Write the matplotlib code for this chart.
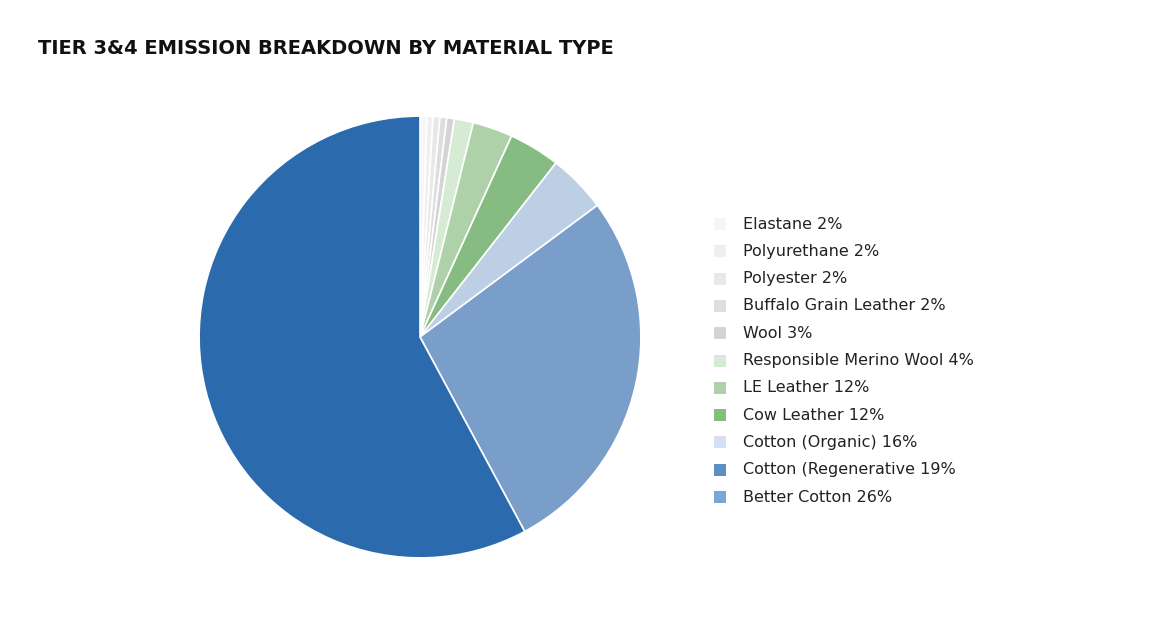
import matplotlib
matplotlib.use("Agg")
import matplotlib.pyplot as plt
import matplotlib.patches as patches

# slice sizes (degrees), clockwise from 12 o'clock
slice_names = ["Elastane", "Polyurethane", "Polyester", "Buffalo Grain Leather", "Wool",
               "Responsible Merino Wool", "LE Leather", "Cow Leather", "Cotton (Organic)",
               "Better Cotton", "Cotton (Regenerative"]
slice_deg = [1.8, 1.6, 1.8, 1.8, 2.0, 5.0, 10.5, 13.5, 15.4, 98.3, 208.3]
slice_colors = ["#f6f6f6", "#efefef", "#e8e8e8", "#dedede", "#d4d4d4", "#d5ebd3",
                "#afd1aa", "#86bb82", "#bccfe4", "#789ec9", "#2a6aad"]

legend_labels = ["Elastane 2%", "Polyurethane 2%", "Polyester 2%", "Buffalo Grain Leather 2%",
                 "Wool 3%", "Responsible Merino Wool 4%", "LE Leather 12%", "Cow Leather 12%",
                 "Cotton (Organic) 16%", "Cotton (Regenerative 19%", "Better Cotton 26%"]
legend_colors = ["#f6f6f6", "#efefef", "#e8e8e8", "#dedede", "#d4d4d4", "#d5ebd3",
                 "#afd1aa", "#86bb82", "#d3e1f0", "#5d8fc4", "#7aa8d4"]

W, H = 1175, 621
fig = plt.figure(figsize=(W / 100, H / 100), dpi=100)

cx, cy, r = 420, 337, 222
ax = fig.add_axes([(cx - r) / W, (H - cy - r) / H, 2 * r / W, 2 * r / H])
ax.pie(slice_deg, colors=slice_colors, startangle=90, counterclock=False,
       wedgeprops=dict(edgecolor="white", linewidth=1.2))
ax.set_xlim(-1.005, 1.005)
ax.set_ylim(-1.005, 1.005)
ax.set_aspect("equal")

fig.text(38 / W, 1 - 48 / H, "TIER 3&4 EMISSION BREAKDOWN BY MATERIAL TYPE",
         fontsize=14, fontweight="bold", color="#111111", va="center")

y0, dy = 224, 27.3
for i, (lab, col) in enumerate(zip(legend_labels, legend_colors)):
    y = y0 + i * dy
    fig.patches.append(patches.Rectangle((714 / W, 1 - (y + 6) / H), 12 / W, 12 / H,
                                         transform=fig.transFigure, facecolor=col,
                                         edgecolor="none"))
    fig.text(743 / W, 1 - y / H, lab, fontsize=11.5, color="#222222", va="center")

fig.savefig("out.png", dpi=100)
